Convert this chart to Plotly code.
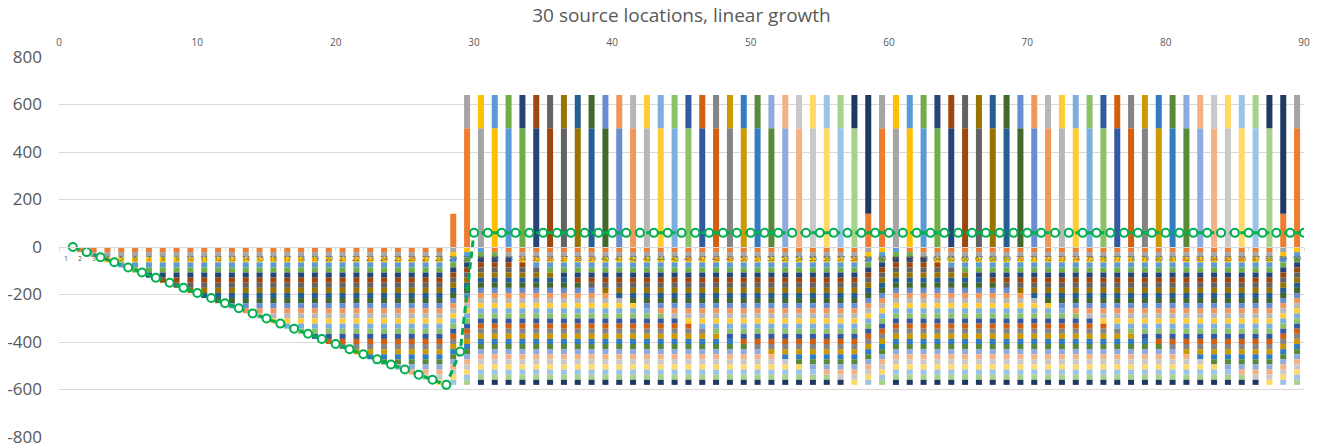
import plotly.graph_objects as go

# Time steps shown on the category axis
steps = list(range(1, 91))

# One 30-step cycle of a source location: idle step, 27 build steps, then two payouts
cycle = [0,
         -21.5, -21.5, -21.5, -21.5, -21.5, -21.5, -21.5, -21.5, -21.5,
         -21.5, -21.5, -21.5, -21.5, -21.5, -21.5, -21.5, -21.5, -21.5,
         -21.5, -21.5, -21.5, -21.5, -21.5, -21.5, -21.5, -21.5, -21.5,
         140, 500]

# Step at which each of the 30 source locations is opened (one new location per step)
start_steps = [1, 2, 3, 4, 5, 6, 7, 8, 9, 10,
               11, 12, 13, 14, 15, 16, 17, 18, 19, 20,
               21, 22, 23, 24, 25, 26, 27, 28, 29, 30]

# Office-style series palette
colors = ["#ED7D31", "#A5A5A5", "#FFC000", "#5B9BD5", "#70AD47", "#264478",
          "#9E480E", "#636363", "#997300", "#255E91", "#43682B", "#698ED0",
          "#F1975A", "#B7B7B7", "#FFCD33", "#7CAFDD", "#8CC168", "#335AA1",
          "#D26012", "#848484", "#CC9A00", "#327DC2", "#5A8A39", "#8FAADC",
          "#F4B183", "#C9C9C9", "#FFD966", "#9DC3E6", "#A9D18E", "#203864"]

y_ticks = [-800, -600, -400, -200, 0, 200, 400, 600, 800]
y_tick_text = ["-800", "-600", "-400", "-200", "0", "200", "400", "600", "800"]
top_ticks = [0, 10, 20, 30, 40, 50, 60, 70, 80, 90]

period = len(cycle)
series = []
for start in start_steps:
    series.append([0 if t < start else cycle[(t - start) % period] for t in steps])

net = [sum(vals[i] for vals in series) for i in range(len(steps))]

FONT = "Open Sans"
GREY = "#595959"
GRID = "#D9D9D9"
cats = [str(t) for t in steps]

fig = go.Figure()
for k, vals in enumerate(series):
    fig.add_trace(go.Bar(
        x=cats, y=vals,
        marker=dict(color=colors[k], line=dict(width=0)),
        name=f"Location {k + 1}", xaxis="x", yaxis="y",
        hoverinfo="skip",
    ))

fig.add_trace(go.Scatter(
    x=steps, y=net, xaxis="x2", yaxis="y",
    mode="lines+markers", name="Net",
    line=dict(color="#00B050", width=3, dash="7px,4px"),
    marker=dict(symbol="circle", size=8, color="white",
                line=dict(color="#00B050", width=2)),
))

# Category labels sit just under the zero line, over the bars
# (placed by category index so they line up with their bars)
for i, c in enumerate(cats):
    fig.add_annotation(
        x=i, y=0, xref="x", yref="y", text=c, showarrow=False,
        yanchor="middle", yshift=-11,
        font=dict(family=FONT, size=7, color=GREY),
    )

fig.update_layout(
    width=1317, height=448,
    margin=dict(l=59, r=13, t=57, b=11, autoexpand=False),
    paper_bgcolor="white", plot_bgcolor="white",
    barmode="relative", bargap=0.565,
    showlegend=False,
    font=dict(family=FONT, color=GREY),
    title=dict(text="30 source locations, linear growth",
               x=0.5, xref="paper", xanchor="center",
               y=1 - 15 / 448, yref="container", yanchor="middle",
               font=dict(family=FONT, size=19, color=GREY)),
    xaxis=dict(
        type="category", categoryorder="array", categoryarray=cats,
        range=[-0.5, len(cats) - 0.5], autorange=False,
        anchor="free", position=0.5, automargin=False,
        showgrid=False, zeroline=False,
        showline=True, linecolor=GRID, linewidth=1,
        ticks="outside", ticklen=3, tickcolor=GRID, tickson="boundaries",
        showticklabels=False,
        layer="above traces",
    ),
    xaxis2=dict(
        overlaying="x", side="top", anchor="y", automargin=False,
        range=[0, 90], tickvals=top_ticks,
        showgrid=False, zeroline=False, showline=False, ticks="",
        tickfont=dict(family=FONT, size=10, color=GREY),
        ticklabelstandoff=8,
    ),
    yaxis=dict(
        range=[-800, 800], tickvals=y_ticks, ticktext=y_tick_text,
        automargin=False,
        showgrid=True, gridcolor=GRID, gridwidth=1,
        zeroline=False, showline=False, ticks="",
        tickfont=dict(family=FONT, size=17, color=GREY),
        ticklabelstandoff=16,
    ),
)

fig.write_html("out.html")
